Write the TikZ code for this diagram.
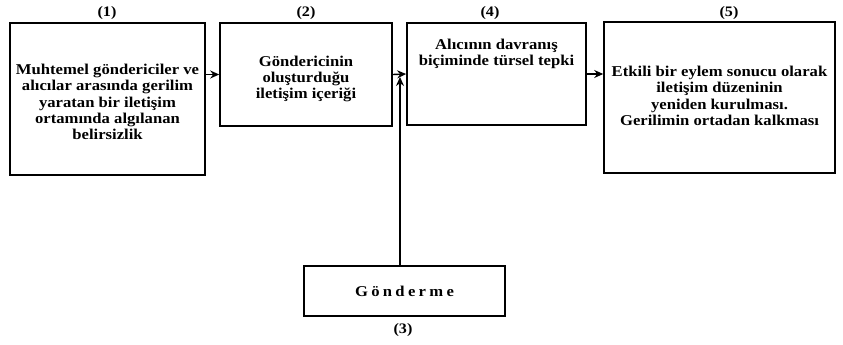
\documentclass[tikz,border=0pt]{standalone}
\usepackage{fontspec}
\setmainfont{Liberation Serif}[FakeStretch=1.11]
\usetikzlibrary{arrows.meta}
\begin{document}
\begin{tikzpicture}[x=1pt,y=1pt,
  box/.style={draw, line width=1.6pt, inner sep=0pt},
  txt/.style={align=center, font=\bfseries\fontsize{15}{16.3}\selectfont},
  lbl/.style={font=\bfseries\fontsize{14.5}{16}\selectfont},
  arr/.style={line width=1.4pt, -{Stealth[length=9pt,width=8pt]}}]
\useasboundingbox (0,0) rectangle (843,345);
% boxes
\node[box, minimum width=195pt, minimum height=152pt] (b1) at (107.5,246) {};
\node[box, minimum width=172pt, minimum height=103pt] (b2) at (306,270.5) {};
\node[box, minimum width=201pt, minimum height=50pt] (b3) at (404.5,54) {};
\node[box, minimum width=179pt, minimum height=102pt] (b4) at (496.5,271) {};
\node[box, minimum width=231pt, minimum height=151pt] (b5) at (719.5,247.5) {};
% texts
\node[txt] (t1) at (107.5,243) {Muhtemel göndericiler ve\\alıcılar arasında gerilim\\yaratan bir iletişim\\ortamında algılanan\\belirsizlik};
\node[txt] (t2) at (306,266) {Göndericinin\\oluşturduğu\\iletişim içeriği};
\node[txt] (t3) at (404.5,54) {\addfontfeature{LetterSpace=22}Gönderme};
\node[txt] (t4) at (496.5,291) {Alıcının davranış\\biçiminde türsel tepki};
\node[txt] (t5) at (719.5,249) {Etkili bir eylem sonucu olarak\\iletişim düzeninin\\yeniden kurulması.\\Gerilimin ortadan kalkması};
% labels
\node[lbl] (l1) at (107,332) {(1)};
\node[lbl] (l2) at (306,332) {(2)};
\node[lbl] (l3) at (403,15) {(3)};
\node[lbl] (l4) at (490,332) {(4)};
\node[lbl] (l5) at (729,332) {(5)};
% connectors
\coordinate (c3) at (400,79);
\coordinate (c3t) at (400,268);
\draw[arr] (b1.east |- b2.west) -- (b2.west);
\draw[arr] (b2.east) -- (b4.west);
\draw[arr] (b4.east) -- (b5.west |- b4.east);
\draw[arr] (c3) -- (c3t);
\end{tikzpicture}
\end{document}
